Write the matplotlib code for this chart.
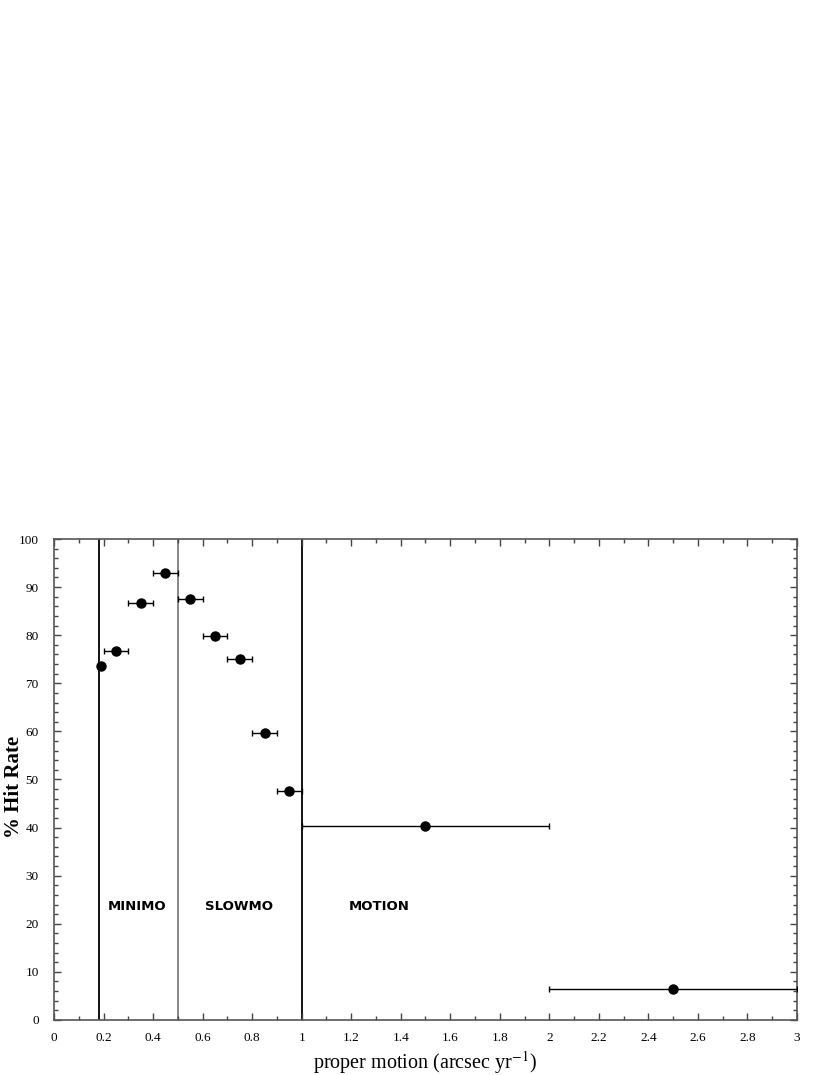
import matplotlib.pyplot as plt
import numpy as np

plt.rcParams['mathtext.fontset'] = 'stix'

# datos
pm = [0.19, 0.25, 0.35, 0.45, 0.55, 0.65, 0.75, 0.85, 0.95, 1.5, 2.5]
hit = [73.6, 76.8, 86.7, 92.9, 87.6, 79.9, 75.0, 59.6, 47.7, 40.4, 6.5]
pm_err = [0.0, 0.05, 0.05, 0.05, 0.05, 0.05, 0.05, 0.05, 0.05, 0.5, 0.5]

limites = [0.18, 0.5, 1.0]
limites_cor = ['black', '#666666', 'black']
nomes = ['MINIMO', 'SLOWMO', 'MOTION']
nomes_x = [0.337, 0.748, 1.315]

fig = plt.figure(figsize=(8.3, 10.75), dpi=100)
ax = fig.add_axes([0.0651, 0.0512, 0.8951, 0.4474])

for xl, c in zip(limites, limites_cor):
    ax.axvline(xl, color=c, lw=1.3 if c == 'black' else 1.1, zorder=1)

ax.errorbar(pm, hit, xerr=pm_err, fmt='o', color='black', ms=6.5,
            ecolor='black', elinewidth=1.0, capsize=2.5, capthick=1.0, zorder=3)

for n, xn in zip(nomes, nomes_x):
    ax.text(xn, 23.5, n, ha='center', va='center', fontsize=9.5,
            fontweight='bold', family='DejaVu Sans')

ax.set_xlim(0, 3)
ax.set_ylim(0, 100)
ax.set_xticks(np.arange(0, 3.01, 0.2))
ax.set_xticks(np.arange(0, 3.01, 0.1), minor=True)
ax.set_yticks(np.arange(0, 101, 10))
ax.set_yticks(np.arange(0, 101, 2), minor=True)
ax.set_xticklabels(['0', '0.2', '0.4', '0.6', '0.8', '1', '1.2', '1.4', '1.6',
                    '1.8', '2', '2.2', '2.4', '2.6', '2.8', '3'])

ax.tick_params(which='both', direction='in', top=True, right=True,
               color='#444444', labelsize=9.5, labelfontfamily='Liberation Serif')
ax.tick_params(which='major', length=5, width=1)
ax.tick_params(which='minor', length=3, width=1)
ax.tick_params(axis='x', pad=9)
ax.tick_params(axis='y', pad=11)
for s in ax.spines.values():
    s.set_color('#555555')
    s.set_linewidth(1.2)

ax.set_xlabel('proper motion (arcsec yr$^{\\mathrm{-1}}$)', fontsize=14.5,
              family='Liberation Serif', labelpad=3)
ax.set_ylabel('% Hit Rate', fontsize=15, fontweight='bold',
              family='Liberation Serif')
ax.yaxis.set_label_coords(-0.040, 0.485)

fig.savefig('out.png', dpi=100)
